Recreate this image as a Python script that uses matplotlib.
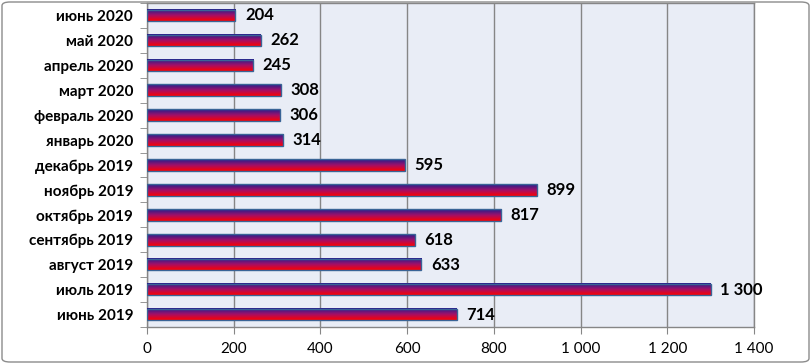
import matplotlib
matplotlib.use("Agg")
import matplotlib.pyplot as plt
import numpy as np
from matplotlib.colors import LinearSegmentedColormap
from matplotlib.patches import Rectangle, FancyBboxPatch

categories = ["июнь 2019", "июль 2019", "август 2019", "сентябрь 2019", "октябрь 2019",
              "ноябрь 2019", "декабрь 2019", "январь 2020", "февраль 2020", "март 2020",
              "апрель 2020", "май 2020", "июнь 2020"]
values = [714, 1300, 633, 618, 817, 899, 595, 314, 306, 308, 245, 262, 204]
value_labels = ["714", "1 300", "633", "618", "817", "899", "595", "314", "306", "308", "245", "262", "204"]
xticks = [0, 200, 400, 600, 800, 1000, 1200, 1400]
xtick_labels = ["0", "200", "400", "600", "800", "1 000", "1 200", "1 400"]

plt.rcParams['font.family'] = ['Lato', 'DejaVu Sans']

fig = plt.figure(figsize=(8.11, 3.64), dpi=100)
ax = fig.add_axes([147/811, 1-327/364, (754-147)/811, (327-3)/364])
ax.set_facecolor("#E9EDF6")

cmap = LinearSegmentedColormap.from_list("g", ["#FF0000", "#A0106A", "#20208E"])
grad = np.linspace(0, 1, 64).reshape(-1, 1)
h = 0.46
ypos = np.arange(len(categories))
for y, v in zip(ypos, values):
    ax.imshow(grad, cmap=cmap, aspect='auto', origin='lower',
              extent=[0, v, y - h/2, y + h/2], zorder=3, interpolation='bilinear')
    ax.add_patch(Rectangle((0, y - h/2), v, h, fill=False, edgecolor="#3A6496", lw=1.0, zorder=4))

for y, v, lab in zip(ypos, values, value_labels):
    ax.text(v + 22, y, lab, va='center', ha='left', fontsize=12, fontweight='bold', color='black', zorder=5)

ax.set_xlim(0, 1400)
ax.set_ylim(-0.5, len(categories) - 0.5)
ax.set_xticks(xticks)
ax.set_xticklabels(xtick_labels, fontsize=11)
ax.set_yticks(ypos)
ax.set_yticklabels(categories, fontsize=11, fontweight='bold')
ax.set_yticks(np.arange(-0.5, len(categories), 1), minor=True)
ax.tick_params(axis='y', which='major', length=0, pad=10)
ax.tick_params(axis='y', which='minor', length=5, color="#868686", direction='out')
ax.tick_params(axis='x', length=5, color="#868686", direction='out', pad=6)
ax.grid(axis='x', color="#868686", lw=1.0, zorder=1)
ax.set_axisbelow(True)
for s in ax.spines.values():
    s.set_color("#868686")
    s.set_linewidth(1.0)

border = FancyBboxPatch((2/811, 2/364), 1 - 4/811, 1 - 4/364,
                        boxstyle="round,pad=0,rounding_size=0.01",
                        transform=fig.transFigure, fill=False, edgecolor="#8C8C8C", lw=1.0)
fig.patches.append(border)

fig.savefig("out.png", dpi=100)
